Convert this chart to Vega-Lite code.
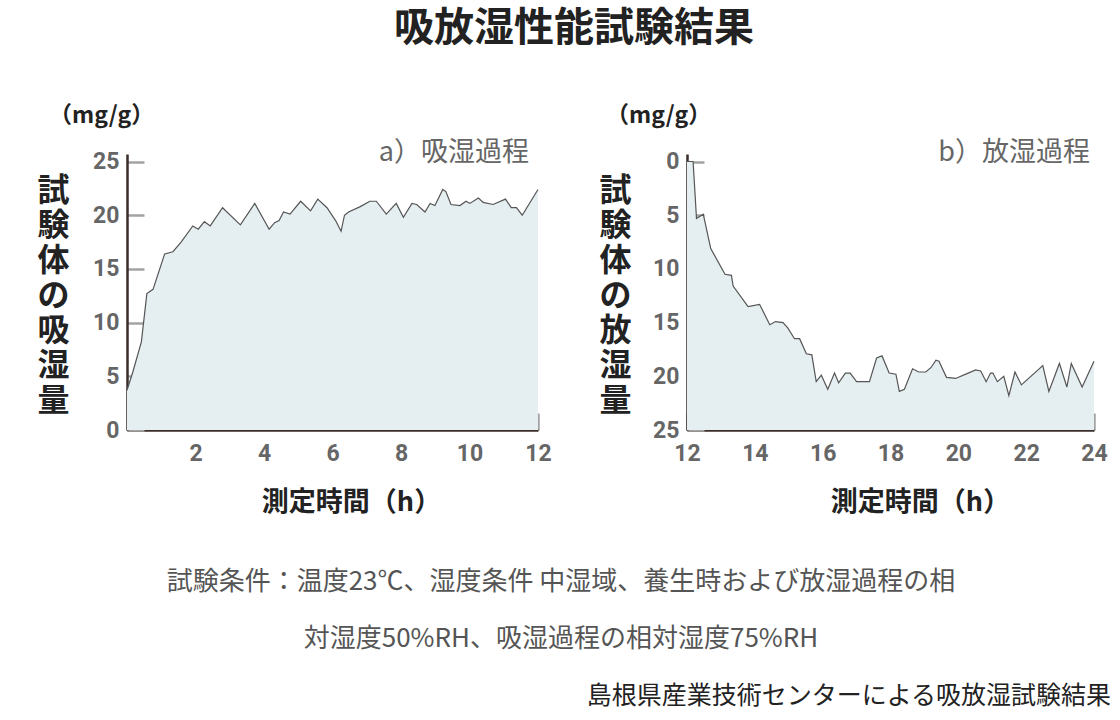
{
  "$schema": "https://vega.github.io/schema/vega-lite/v6.json",
  "background": "white",
  "padding": {"left": 36, "top": 8, "right": 0, "bottom": 0},
  "config": {
    "view": {"stroke": null},
    "font": "Noto Sans CJK JP",
    "axis": {
      "grid": false,
      "domainColor": "#3a2d29",
      "domainWidth": 2.5,
      "tickColor": "#a3a3a3",
      "tickWidth": 2.5,
      "tickSize": -17,
      "labelFlush": false,
      "labelFont": "Roboto",
      "labelFontSize": 23,
      "labelFontWeight": "bold",
      "labelColor": "#666666",
      "titleFont": "Noto Sans CJK JP",
      "titleFontWeight": "bold",
      "titleColor": "#222222"
    },
    "axisX": {"titleFontSize": 27, "labelPadding": 29},
    "axisY": {"titleFontSize": 32, "labelPadding": 25},
    "title": {"font": "Noto Sans CJK JP"}
  },
  "title": {
    "text": "吸放湿性能試験結果",
    "fontSize": 40,
    "fontWeight": "bold",
    "color": "#222222",
    "anchor": "middle",
    "offset": 56
  },
  "datasets": {
    "absorb": [
      {"t": 0, "v": 3.7}, {"t": 0.17, "v": 5.4}, {"t": 0.42, "v": 8.2}, {"t": 0.58, "v": 12.7},
      {"t": 0.76, "v": 13.1}, {"t": 1.10, "v": 16.4}, {"t": 1.34, "v": 16.6}, {"t": 1.58, "v": 17.5},
      {"t": 1.92, "v": 19.0}, {"t": 2.08, "v": 18.7}, {"t": 2.26, "v": 19.4}, {"t": 2.43, "v": 19.0},
      {"t": 2.79, "v": 20.7}, {"t": 3.31, "v": 19.1}, {"t": 3.73, "v": 21.1}, {"t": 4.15, "v": 18.7},
      {"t": 4.31, "v": 19.3}, {"t": 4.44, "v": 19.5}, {"t": 4.57, "v": 20.3}, {"t": 4.76, "v": 20.1},
      {"t": 5.07, "v": 21.3}, {"t": 5.36, "v": 20.4}, {"t": 5.57, "v": 21.5}, {"t": 5.84, "v": 20.7},
      {"t": 6.09, "v": 19.5}, {"t": 6.25, "v": 18.5}, {"t": 6.35, "v": 20.0}, {"t": 6.47, "v": 20.3},
      {"t": 6.81, "v": 20.8}, {"t": 7.09, "v": 21.3}, {"t": 7.28, "v": 21.3}, {"t": 7.57, "v": 20.1},
      {"t": 7.86, "v": 21.1}, {"t": 8.07, "v": 19.8}, {"t": 8.32, "v": 21.1}, {"t": 8.46, "v": 21.0},
      {"t": 8.70, "v": 20.3}, {"t": 8.85, "v": 21.1}, {"t": 8.99, "v": 20.9}, {"t": 9.22, "v": 22.4},
      {"t": 9.31, "v": 22.2}, {"t": 9.46, "v": 21.0}, {"t": 9.72, "v": 20.9}, {"t": 9.90, "v": 21.3},
      {"t": 10.01, "v": 21.1}, {"t": 10.26, "v": 21.6}, {"t": 10.40, "v": 21.2}, {"t": 10.69, "v": 21.0},
      {"t": 11.05, "v": 21.5}, {"t": 11.22, "v": 20.7}, {"t": 11.37, "v": 20.7}, {"t": 11.54, "v": 20.0},
      {"t": 12.0, "v": 22.4}
    ],
    "desorb": [
      {"t": 12.0, "v": 0.0}, {"t": 12.18, "v": 0.0}, {"t": 12.28, "v": 5.3}, {"t": 12.48, "v": 4.9},
      {"t": 12.70, "v": 8.1}, {"t": 13.12, "v": 10.5}, {"t": 13.31, "v": 10.6}, {"t": 13.36, "v": 11.6},
      {"t": 13.80, "v": 13.5}, {"t": 14.14, "v": 13.3}, {"t": 14.44, "v": 15.2}, {"t": 14.61, "v": 14.9},
      {"t": 14.83, "v": 15.0}, {"t": 14.97, "v": 15.5}, {"t": 15.17, "v": 16.5}, {"t": 15.32, "v": 16.5},
      {"t": 15.52, "v": 17.9}, {"t": 15.68, "v": 18.0}, {"t": 15.81, "v": 20.5}, {"t": 15.96, "v": 19.9},
      {"t": 16.15, "v": 21.2}, {"t": 16.35, "v": 19.7}, {"t": 16.47, "v": 20.6}, {"t": 16.67, "v": 19.7},
      {"t": 16.81, "v": 19.7}, {"t": 17.0, "v": 20.5}, {"t": 17.38, "v": 20.5}, {"t": 17.59, "v": 18.3},
      {"t": 17.75, "v": 18.1}, {"t": 17.96, "v": 19.7}, {"t": 18.16, "v": 19.8}, {"t": 18.26, "v": 21.4},
      {"t": 18.41, "v": 21.2}, {"t": 18.65, "v": 19.3}, {"t": 18.83, "v": 19.6}, {"t": 19.04, "v": 19.6},
      {"t": 19.19, "v": 19.2}, {"t": 19.34, "v": 18.5}, {"t": 19.43, "v": 18.6}, {"t": 19.65, "v": 20.1},
      {"t": 19.92, "v": 20.2}, {"t": 20.22, "v": 19.8}, {"t": 20.51, "v": 19.4}, {"t": 20.66, "v": 19.5},
      {"t": 20.82, "v": 20.5}, {"t": 20.95, "v": 19.7}, {"t": 21.02, "v": 19.7}, {"t": 21.15, "v": 20.5},
      {"t": 21.34, "v": 20.0}, {"t": 21.49, "v": 21.8}, {"t": 21.67, "v": 19.6}, {"t": 21.86, "v": 20.8},
      {"t": 22.49, "v": 19.0}, {"t": 22.67, "v": 21.4}, {"t": 22.98, "v": 18.8}, {"t": 23.2, "v": 21.0},
      {"t": 23.33, "v": 18.8}, {"t": 23.65, "v": 21.0}, {"t": 24.0, "v": 18.6}
    ],
    "captions": [
      {"row": 1, "text": "試験条件：温度23℃、湿度条件 中湿域、養生時および放湿過程の相"},
      {"row": 2, "text": "対湿度50%RH、吸湿過程の相対湿度75%RH"}
    ],
    "source": [
      {"row": 3, "text": "島根県産業技術センターによる吸放湿試験結果"}
    ]
  },
  "spacing": 38,
  "vconcat": [
    {
      "spacing": 46,
      "hconcat": [
        {
          "width": 411,
          "height": 276,
          "title": {"text": "（mg/g）", "anchor": "start", "frame": "group", "dx": -78, "fontSize": 23, "fontWeight": "bold", "color": "#222222", "offset": 11},
          "layer": [
            {
              "data": {"name": "absorb"},
              "mark": {"type": "area", "color": "#e5eef1"},
              "encoding": {
                "x": {"field": "t", "type": "quantitative", "scale": {"domain": [0, 12], "nice": false},
                  "axis": {"values": [2, 4, 6, 8, 10, 12], "title": "測定時間（h）", "titleX": 224, "titleY": 72, "titleAlign": "center", "titleBaseline": "middle"}},
                "y": {"field": "v", "type": "quantitative", "scale": {"domain": [0, 25.7], "nice": false, "zero": false},
                  "axis": {"values": [0, 5, 10, 15, 20, 25], "title": ["試", "験", "体", "の", "吸", "湿", "量"], "titleAngle": 0, "titleX": -74, "titleY": 36, "titleAlign": "center", "titleBaseline": "middle", "titleLineHeight": 35}}
              }
            },
            {
              "data": {"name": "absorb"},
              "mark": {"type": "line", "color": "#555555", "strokeWidth": 1.2},
              "encoding": {
                "x": {"field": "t", "type": "quantitative"},
                "y": {"field": "v", "type": "quantitative"}
              }
            },
            {
              "data": {"values": [{"label": "a）吸湿過程"}]},
              "mark": {"type": "text", "align": "right", "baseline": "middle", "dx": -9, "dy": -9, "fontSize": 27, "color": "#666666"},
              "encoding": {
                "x": {"datum": 12, "type": "quantitative"},
                "y": {"datum": 25, "type": "quantitative"},
                "text": {"field": "label"}
              }
            }
          ]
        },
        {
          "width": 407,
          "height": 276,
          "title": {"text": "（mg/g）", "anchor": "start", "frame": "group", "dx": -81, "fontSize": 23, "fontWeight": "bold", "color": "#222222", "offset": 11},
          "layer": [
            {
              "data": {"name": "desorb"},
              "mark": {"type": "area", "color": "#e5eef1"},
              "encoding": {
                "x": {"field": "t", "type": "quantitative", "scale": {"domain": [12, 24], "nice": false, "zero": false},
                  "axis": {"values": [12, 14, 16, 18, 20, 22, 24], "title": "測定時間（h）", "titleX": 233, "titleY": 72, "titleAlign": "center", "titleBaseline": "middle"}},
                "y": {"field": "v", "type": "quantitative", "scale": {"domain": [-0.7, 25], "nice": false, "zero": false, "reverse": true},
                  "axis": {"values": [0, 5, 10, 15, 20, 25], "title": ["試", "験", "体", "の", "放", "湿", "量"], "titleAngle": 0, "titleX": -72, "titleY": 36, "titleAlign": "center", "titleBaseline": "middle", "titleLineHeight": 35}},
                "y2": {"datum": 25}
              }
            },
            {
              "data": {"name": "desorb"},
              "mark": {"type": "line", "color": "#555555", "strokeWidth": 1.2},
              "encoding": {
                "x": {"field": "t", "type": "quantitative"},
                "y": {"field": "v", "type": "quantitative"}
              }
            },
            {
              "data": {"values": [{"label": "b）放湿過程"}]},
              "mark": {"type": "text", "align": "right", "baseline": "middle", "dx": -4, "dy": -9, "fontSize": 27, "color": "#666666"},
              "encoding": {
                "x": {"datum": 24, "type": "quantitative"},
                "y": {"datum": 0, "type": "quantitative"},
                "text": {"field": "label"}
              }
            }
          ]
        }
      ]
    },
    {
      "width": 984,
      "height": 171,
      "layer": [
        {
          "data": {"name": "captions"},
          "mark": {"type": "text", "align": "center", "baseline": "middle", "dx": -58, "fontSize": 26, "color": "#555555", "font": "Noto Sans CJK JP"},
          "encoding": {
            "y": {"field": "row", "type": "ordinal", "axis": null, "scale": {"type": "point", "padding": 0.5}},
            "text": {"field": "text"}
          }
        },
        {
          "data": {"name": "source"},
          "mark": {"type": "text", "align": "right", "baseline": "middle", "fontSize": 25, "color": "#222222", "font": "Noto Sans CJK JP"},
          "encoding": {
            "x": {"value": "width"},
            "y": {"field": "row", "type": "ordinal", "axis": null},
            "text": {"field": "text"}
          }
        }
      ]
    }
  ]
}
